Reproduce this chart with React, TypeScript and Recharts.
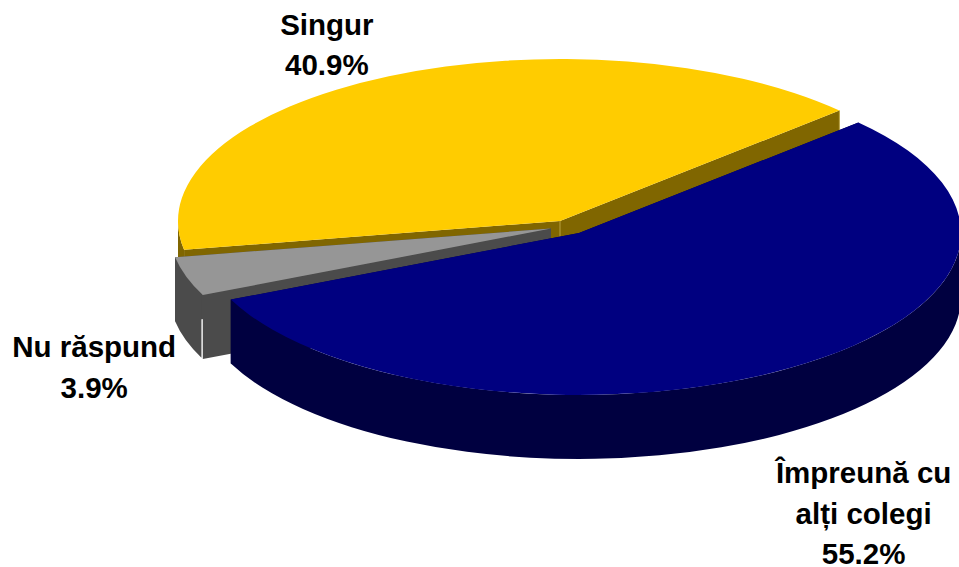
import React from "react";
import { PieChart, Pie } from "recharts";

// ---- data ----
const sliceNames = ["Singur", "Nu răspund", "Împreună cu alți colegi"];
const sliceValues = [40.9, 3.9, 55.2];
const labelLines = [["Singur"], ["Nu răspund"], ["Împreună cu", "alți colegi"]];

// ---- style ----
const topColors = ["#FFCC00", "#969696", "#000080"];
const wallColors = ["#806600", "#4B4B4B", "#000040"];
const explodeX = [0, -9, 19];
const explodeY = [0, 7.5, 12];
const labelDx = [-62, -92, 73];
const labelDy = [-32, 90, 145];
const wallGapDeg = [0, 0.5, 0];
const edgeTint = ["#B8A040", "", ""];

const WIDTH = 959;
const HEIGHT = 567;
const CX = 560;
const CY = 221;
const RX = 382;
const SQUASH = 0.424;
const DEPTH = 64;
const FONT = 29.5;
const LINE = 40.5;
const START = 43;

const chartData = sliceNames.map((name, i) => ({ name, value: sliceValues[i], idx: i }));

const rad = (d: number) => (d * Math.PI) / 180;

function Slice(props: any) {
  const { cx, cy, outerRadius, startAngle, endAngle, index } = props;
  const i = props.idx ?? props.payload?.idx ?? index ?? 0;
  const ox = cx + explodeX[i];
  const oy = cy + explodeY[i];
  const rx = outerRadius;
  const ry = outerRadius * SQUASH;
  const pt = (a: number, d = 0) => [ox + rx * Math.cos(rad(a)), oy - ry * Math.sin(rad(a)) + d];
  const fmt = (p: number[]) => `${p[0].toFixed(2)} ${p[1].toFixed(2)}`;
  const a0 = Math.min(startAngle, endAngle);
  const a1 = Math.max(startAngle, endAngle);
  const large = a1 - a0 > 180 ? 1 : 0;
  const apex = [ox, oy];
  const apexD = [ox, oy + DEPTH];
  const face = (a: number) =>
    `M${fmt(apex)} L${fmt(pt(a))} L${fmt(pt(a, DEPTH))} L${fmt(apexD)} Z`;
  const w0 = Math.max(a0, 180);
  const w1 = Math.min(a1, 360) - wallGapDeg[i];
  const wall =
    w1 > w0
      ? `M${fmt(pt(w0))} A${rx} ${ry} 0 0 0 ${fmt(pt(w1))} L${fmt(pt(w1, DEPTH))} A${rx} ${ry} 0 0 1 ${fmt(pt(w0, DEPTH))} Z`
      : "";
  const top = `M${fmt(apex)} L${fmt(pt(a0))} A${rx} ${ry} 0 ${large} 0 ${fmt(pt(a1))} Z`;
  const tint = edgeTint[i];
  return (
    <g>
      <path d={face(a0)} fill={wallColors[i]} />
      <path d={face(a1)} fill={wallColors[i]} />
      {wall && <path d={wall} fill={wallColors[i]} />}
      {tint && (
        <>
          <line x1={apex[0]} y1={apex[1]} x2={apexD[0]} y2={apexD[1]} stroke={tint} strokeWidth={1} />
          <line x1={pt(a0)[0]} y1={pt(a0)[1]} x2={pt(a0, DEPTH)[0]} y2={pt(a0, DEPTH)[1]} stroke={tint} strokeWidth={1} />
        </>
      )}
      <path d={top} fill={topColors[i]} />
    </g>
  );
}

function SliceLabel(props: any) {
  const { cx, cy, outerRadius, midAngle, index } = props;
  const i = props.idx ?? props.payload?.idx ?? index ?? 0;
  const x = cx + explodeX[i] + outerRadius * Math.cos(rad(midAngle)) + labelDx[i];
  const y = cy + explodeY[i] - outerRadius * SQUASH * Math.sin(rad(midAngle)) + labelDy[i];
  const lines = [...labelLines[i], `${sliceValues[i].toFixed(1)}%`];
  const firstY = y - ((lines.length - 1) * LINE) / 2;
  return (
    <text
      x={x}
      y={firstY}
      textAnchor="middle"
      dominantBaseline="central"
      fontFamily="'Liberation Sans', Arial, sans-serif"
      fontWeight={700}
      fontSize={FONT}
      fill="#000000"
    >
      {lines.map((l, k) => (
        <tspan key={k} x={x} y={firstY + k * LINE}>
          {l}
        </tspan>
      ))}
    </text>
  );
}

export default function App() {
  return (
    <div style={{ position: "absolute", left: 0, top: 0, width: WIDTH, height: HEIGHT, background: "#fff" }}>
      <PieChart width={WIDTH} height={HEIGHT} margin={{ top: 0, right: 0, bottom: 0, left: 0 }}>
        <Pie
          data={chartData}
          dataKey="value"
          nameKey="name"
          cx={CX}
          cy={CY}
          innerRadius={0}
          outerRadius={RX}
          startAngle={START}
          endAngle={START + 360}
          stroke="none"
          paddingAngle={0}
          isAnimationActive={false}
          shape={Slice}
          label={SliceLabel}
          labelLine={false}
        />
      </PieChart>
    </div>
  );
}
